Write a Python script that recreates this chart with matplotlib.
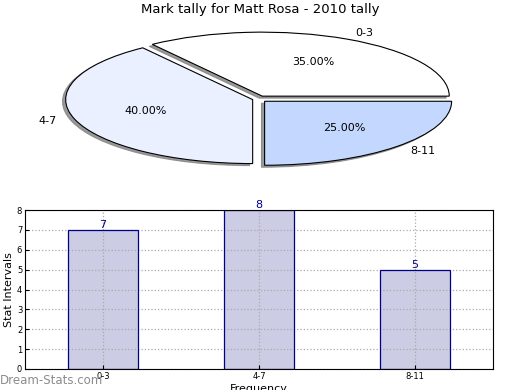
import matplotlib
matplotlib.use("Agg")
import matplotlib.pyplot as plt

title = "Mark tally for Matt Rosa - 2010 tally"
categories = ["0-3", "4-7", "8-11"]
counts = [7, 8, 5]
pie_colors = ["#ffffff", "#eaf0ff", "#c4d8ff"]
explode = [0.05, 0.03, 0.05]

fig = plt.figure(figsize=(5.2, 3.9), dpi=100)

# Pie axes (non-equal aspect -> ellipse)
ax1 = fig.add_axes([0.0, 1 - 180 / 390, 1.0, 160 / 390])
wedges, texts, autotexts = ax1.pie(
    counts, labels=categories, colors=pie_colors, explode=explode,
    autopct="%1.2f%%", startangle=0,
    shadow=dict(ox=-0.012, oy=-0.022, facecolor="#808080", edgecolor="#808080", alpha=0.8),
    wedgeprops=dict(edgecolor="black", linewidth=0.8),
    textprops=dict(fontsize=8),
)
ax1.set_aspect("auto")
ax1.set_xlim(-258 / 187, 262 / 187)
ax1.set_ylim(-(180 - 99) / 64, (99 - 20) / 64)
ax1.axis("off")
fig.text(0.5, 1 - 10 / 390, title, ha="center", va="center", fontsize=9.5)

# Bar axes
ax2 = fig.add_axes([25 / 520, 1 - 369 / 390, 468 / 520, 159 / 390])
x = list(range(len(categories)))
ax2.bar(x, counts, width=0.45, color="#ccccE4", edgecolor="none", zorder=1)
ax2.bar(x, counts, width=0.45, color="none", edgecolor="#000088", linewidth=0.9, zorder=4)
for xi, v in zip(x, counts):
    ax2.text(xi, v, str(v), ha="center", va="bottom", color="#000088", fontsize=8, zorder=5)
ax2.set_xlim(-0.5, 2.5)
ax2.set_ylim(0, 8)
ax2.set_xticks(x)
ax2.set_xticklabels(categories, fontsize=6)
ax2.set_yticks(range(0, 9))
ax2.tick_params(axis="y", labelsize=6, direction="in", length=3, pad=2)
ax2.tick_params(axis="x", labelsize=6, direction="in", length=3, pad=2)
ax2.set_axisbelow(False)
ax2.grid(True, linestyle=":", color="#aaaaaa", linewidth=0.9, zorder=3)
for s in ax2.spines.values():
    s.set_zorder(6)
ax2.set_ylabel("Stat Intervals", fontsize=8, labelpad=2)
ax2.set_xlabel("Frequency", fontsize=8, labelpad=2)

fig.text(0.0, 1 - 380 / 390, "Dream-Stats.com", ha="left", va="center",
         fontsize=8.5, color="#8c8c8c")

fig.savefig("out.png", dpi=100)
